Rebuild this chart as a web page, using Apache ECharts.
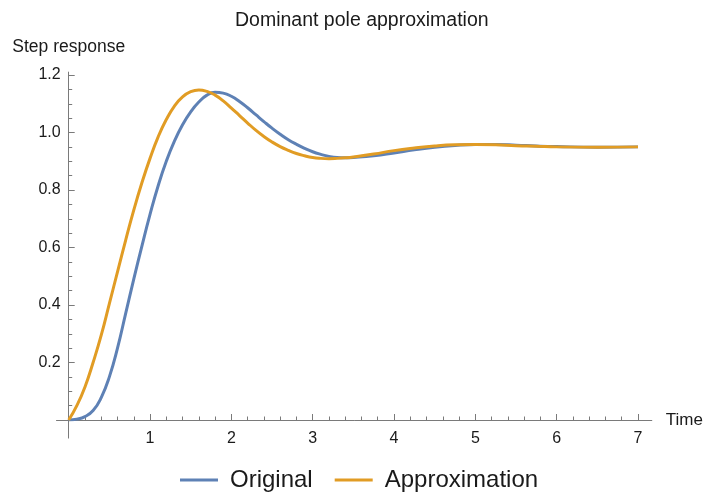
<!DOCTYPE html>
<html>
<head>
<meta charset="utf-8">
<script src="https://cdn.jsdelivr.net/npm/echarts@6/dist/echarts.min.js"></script>
<style>
  html, body { margin: 0; padding: 0; background: #fff; }
  #chart { width: 708px; height: 499px; }
</style>
</head>
<body>
<div id="chart"></div>
<script>
// time samples (s)
const time = [0, 0.1, 0.2, 0.3, 0.4, 0.5, 0.6, 0.7, 0.8, 0.9,
  1.0, 1.1, 1.2, 1.3, 1.4, 1.5, 1.6, 1.7, 1.8, 1.9,
  2.0, 2.1, 2.2, 2.3, 2.4, 2.5, 2.6, 2.7, 2.8, 2.9,
  3.0, 3.1, 3.2, 3.3, 3.4, 3.5, 3.75, 4.0, 4.25, 4.5,
  4.75, 5.0, 5.25, 5.5, 5.75, 6.0, 6.5, 7.0]

// step response of the original system
const original = [0, 0.003, 0.012, 0.033, 0.078, 0.150, 0.250, 0.370, 0.490, 0.605,
  0.715, 0.815, 0.900, 0.970, 1.027, 1.072, 1.106, 1.130, 1.140, 1.137,
  1.126, 1.108, 1.086, 1.062, 1.038, 1.015, 0.994, 0.975, 0.959, 0.945,
  0.933, 0.924, 0.917, 0.913, 0.912, 0.913, 0.919, 0.929, 0.940, 0.949,
  0.955, 0.958, 0.958, 0.956, 0.953, 0.951, 0.949, 0.950]

// dominant pole approximation
const approximation = [0, 0.05, 0.115, 0.200, 0.295, 0.405, 0.515, 0.625, 0.730, 0.825,
  0.910, 0.985, 1.045, 1.092, 1.124, 1.142, 1.148, 1.143, 1.130, 1.110,
  1.085, 1.059, 1.033, 1.008, 0.986, 0.967, 0.951, 0.938, 0.927, 0.919,
  0.913, 0.910, 0.909, 0.910, 0.912, 0.915, 0.925, 0.937, 0.946, 0.953,
  0.957, 0.958, 0.957, 0.954, 0.952, 0.950, 0.949, 0.950]

const FONT = '"Liberation Sans", Arial, sans-serif'
const AXIS_COLOR = '#7a7a7a'
const TEXT_COLOR = '#1a1a1a'

const chart = echarts.init(document.getElementById('chart'))

const option = {
  animation: false,
  backgroundColor: '#fff',
  title: {
    text: 'Dominant pole approximation',
    left: 230,
    top: 6,
    textStyle: { fontFamily: FONT, fontSize: 19.5, fontWeight: 'normal', color: TEXT_COLOR }
  },
  legend: {
    left: 175,
    top: 463,
    icon: 'rect',
    itemWidth: 38,
    itemHeight: 3,
    itemGap: 22,
    textStyle: { fontFamily: FONT, fontSize: 24, color: TEXT_COLOR, padding: [0, 0, 0, 7] },
    data: ['Original', 'Approximation']
  },
  grid: [
    // ticks, labels and curves
    { left: 68.7, right: 70, top: 75, bottom: 79 },
    // plain axis lines that run a bit past the tick range
    { left: 56.5, right: 56.2, top: 72.1, bottom: 60.9 }
  ],
  xAxis: [
    {
      type: 'value',
      gridIndex: 0,
      min: 0,
      max: 7,
      interval: 1,
      axisLine: { show: false },
      axisTick: { show: true, inside: true, length: 6, lineStyle: { color: AXIS_COLOR } },
      minorTick: { show: true, splitNumber: 5, length: 3.5, lineStyle: { color: AXIS_COLOR } },
      splitLine: { show: false },
      axisLabel: {
        margin: 11,
        fontFamily: FONT,
        fontSize: 16,
        color: TEXT_COLOR,
        formatter: v => (v === 0 ? '' : String(v))
      }
    },
    {
      type: 'value',
      gridIndex: 1,
      min: -0.15,
      max: 7.17,
      axisLine: { show: true, onZero: true, lineStyle: { color: AXIS_COLOR, width: 1 } },
      axisTick: { show: false },
      axisLabel: { show: false },
      splitLine: { show: false },
      name: 'Time',
      nameLocation: 'end',
      nameGap: 14,
      nameTextStyle: { fontFamily: FONT, fontSize: 17, color: TEXT_COLOR }
    }
  ],
  yAxis: [
    {
      type: 'value',
      gridIndex: 0,
      min: 0,
      max: 1.2,
      interval: 0.2,
      axisLine: { show: false },
      axisTick: { show: true, inside: true, length: 6, lineStyle: { color: AXIS_COLOR } },
      minorTick: { show: true, splitNumber: 4, length: 3.5, lineStyle: { color: AXIS_COLOR } },
      splitLine: { show: false },
      axisLabel: {
        margin: 8,
        fontFamily: FONT,
        fontSize: 16,
        color: TEXT_COLOR,
        formatter: v => (v === 0 ? '' : v.toFixed(1))
      }
    },
    {
      type: 'value',
      gridIndex: 1,
      min: -0.063,
      max: 1.21,
      axisLine: { show: true, onZero: true, lineStyle: { color: AXIS_COLOR, width: 1 } },
      axisTick: { show: false },
      axisLabel: { show: false },
      splitLine: { show: false },
      name: 'Step response',
      nameLocation: 'end',
      nameGap: 16,
      nameTextStyle: { fontFamily: FONT, fontSize: 17.5, color: TEXT_COLOR }
    }
  ],
  series: [
    {
      name: 'Original',
      type: 'line',
      xAxisIndex: 0,
      yAxisIndex: 0,
      data: time.map((t, i) => [t, original[i]]),
      smooth: 0.5,
      showSymbol: false,
      symbol: 'none',
      itemStyle: { color: '#5e81b5' },
      lineStyle: { width: 3, color: '#5e81b5' }
    },
    {
      name: 'Approximation',
      type: 'line',
      xAxisIndex: 0,
      yAxisIndex: 0,
      data: time.map((t, i) => [t, approximation[i]]),
      smooth: 0.5,
      showSymbol: false,
      symbol: 'none',
      itemStyle: { color: '#e19c24' },
      lineStyle: { width: 3, color: '#e19c24' }
    }
  ]
}

chart.setOption(option)
window.addEventListener('resize', () => chart.resize())
</script>
</body>
</html>
